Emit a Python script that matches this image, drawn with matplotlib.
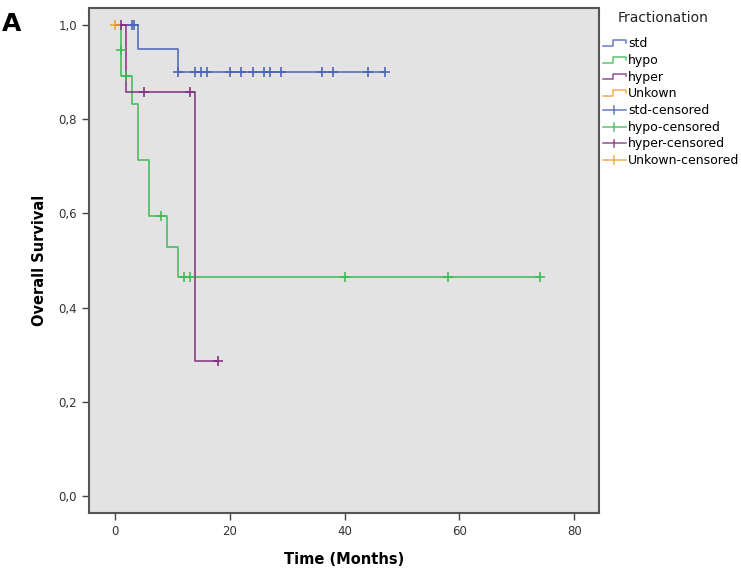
import numpy as np
import matplotlib
matplotlib.use('Agg')
import matplotlib.pyplot as plt
from matplotlib.lines import Line2D
from matplotlib.legend_handler import HandlerBase

# Kaplan-Meier step data (time in months, survival)
std_t = [0, 4, 11, 47]
std_s = [1.0, 0.95, 0.90, 0.90]
std_cens = [3, 3.3, 11, 14, 15, 16, 20, 22, 24, 26, 27, 29, 36, 38, 44, 47]

hypo_t = [0, 1, 1.1, 3, 4, 6, 9, 11, 74]
hypo_s = [1.0, 0.947, 0.891, 0.832, 0.713, 0.594, 0.528, 0.465, 0.465]
hypo_cens = [1.05, 2, 8, 12, 13, 40, 58, 74]

hyper_t = [0, 2, 14, 18]
hyper_s = [1.0, 0.857, 0.286, 0.286]
hyper_cens = [1, 5, 13, 18]

unk_t = [0, 0]
unk_s = [1.0, 1.0]
unk_cens = [0]

groups = ['std', 'hypo', 'hyper', 'Unkown']
colors = ['#4a63b5', '#3dbb55', '#80307f', '#f4a12c']
x_ticks = [0, 20, 40, 60, 80]
y_ticks = [0.0, 0.2, 0.4, 0.6, 0.8, 1.0]


class StepHandler(HandlerBase):
    def create_artists(self, legend, orig_handle, xdescent, ydescent,
                       width, height, fontsize, trans):
        x0, w = -xdescent, width
        yl, yh = -ydescent + 0.1 * height, -ydescent + 0.8 * height
        xs = [x0, x0 + 0.45 * w, x0 + 0.45 * w, x0 + w, x0 + w]
        ys = [yl, yl, yh, yh, yl + 0.35 * height]
        ln = Line2D(xs, ys, color=orig_handle.get_color(), lw=1.1, alpha=0.85)
        ln.set_transform(trans)
        return [ln]


class CensHandler(HandlerBase):
    def create_artists(self, legend, orig_handle, xdescent, ydescent,
                       width, height, fontsize, trans):
        x0, w = -xdescent, width
        y0, h = -ydescent, height
        col = orig_handle.get_color()
        hl = Line2D([x0, x0 + w], [y0 + 0.45 * h] * 2, color=col, lw=1.1, alpha=0.85)
        vl = Line2D([x0 + 0.5 * w] * 2, [y0 - 0.05 * h, y0 + 0.95 * h], color=col,
                    lw=1.1, alpha=0.85)
        hl.set_transform(trans)
        vl.set_transform(trans)
        return [hl, vl]


def surv_at(t_list, s_list, times):
    idx = np.searchsorted(t_list, times, side='right') - 1
    return np.array(s_list)[idx]


fig = plt.figure(figsize=(7.41, 5.70), dpi=100)
ax = fig.add_axes([89 / 741, 1 - 513 / 570, 510 / 741, 505 / 570])
ax.set_facecolor('#e3e3e3')

data = [(std_t, std_s, std_cens), (hypo_t, hypo_s, hypo_cens),
        (hyper_t, hyper_s, hyper_cens), (unk_t, unk_s, unk_cens)]

line_handles = []
cens_handles = []
for (t, s, c), name, col in zip(data, groups, colors):
    ln, = ax.step(t, s, where='post', color=col, lw=1.3, alpha=0.85)
    line_handles.append(ln)
for (t, s, c), name, col in zip(data, groups, colors):
    mk, = ax.plot(c, surv_at(t, s, c), ls='none', marker='+', ms=6.5, mew=1.3,
                  color=col, alpha=0.9)
    cens_handles.append(mk)

ax.set_xlim(-4.5, 84.3)
ax.set_ylim(-0.036, 1.036)
ax.set_xticks(x_ticks)
ax.set_yticks(y_ticks)
ax.set_yticklabels([f'{v:.1f}'.replace('.', ',') for v in y_ticks])
ax.tick_params(direction='out', length=5, width=1, colors='#444444',
               labelsize=8.5, labelcolor='#333333')
for sp in ax.spines.values():
    sp.set_color('#555555')
    sp.set_linewidth(1.5)

ax.set_xlabel('Time (Months)', fontsize=10.5, fontweight='bold', labelpad=10)
ax.set_ylabel('Overall Survival', fontsize=10.5, fontweight='bold', labelpad=8)

labels = groups + [g + '-censored' for g in groups]
handler_map = {h: StepHandler() for h in line_handles}
handler_map.update({h: CensHandler() for h in cens_handles})
fig.text(663 / 741, 1 - 18 / 570, 'Fractionation', fontsize=10, color='#222222',
         ha='center', va='center')
leg = fig.legend(line_handles + cens_handles, labels, handler_map=handler_map,
                 loc='upper left', bbox_to_anchor=(603 / 741, 1 - 37 / 570),
                 frameon=False, fontsize=9, handlelength=1.8, handleheight=0.6,
                 handletextpad=0.2, labelspacing=0.3, borderaxespad=0,
                 borderpad=0)

fig.text(2 / 741, 1 - 24 / 570, 'A', fontsize=18, fontweight='bold',
         va='center', ha='left')

fig.savefig('out.png', dpi=100)
